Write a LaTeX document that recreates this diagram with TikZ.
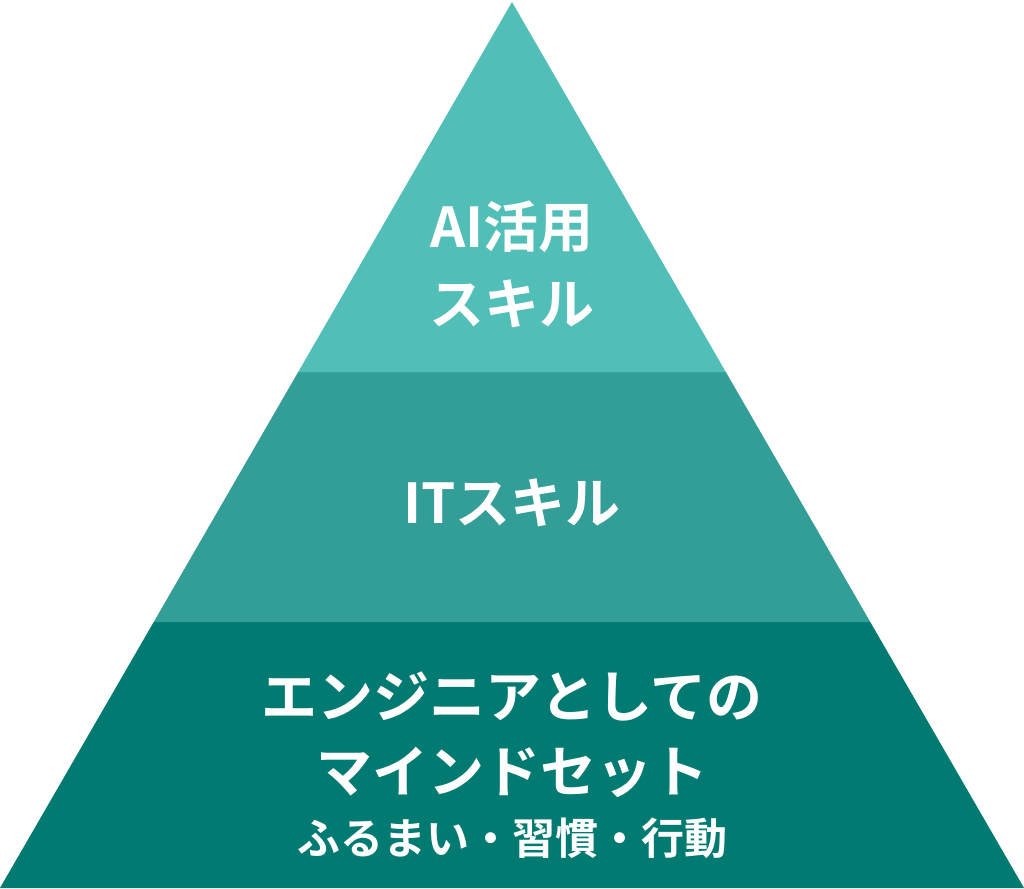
\documentclass[tikz,border=0pt]{standalone}
\usepackage{fontspec}
\setmainfont{Noto Sans CJK JP}[BoldFont={* Bold}]
\definecolor{topc}{HTML}{52BEB8}
\definecolor{midc}{HTML}{339E97}
\definecolor{botc}{HTML}{017A72}
\begin{document}
\begin{tikzpicture}[x=1pt,y=-1pt,
  lbl/.style={text=white,font=\fontsize{55}{74}\selectfont\bfseries,align=center,inner sep=0pt},
  lblb/.style={text=white,font=\fontsize{56}{74}\selectfont\bfseries,align=center,inner sep=0pt},
  lbls/.style={text=white,font=\fontsize{43}{50}\selectfont\bfseries,inner sep=0pt}]
\useasboundingbox (0,0) rectangle (1024,888);
\coordinate (apex) at (512,2);
\coordinate (l2) at (298.19,372);
\coordinate (r2) at (725.81,372);
\coordinate (l1) at (153.73,622);
\coordinate (r1) at (870.27,622);
\coordinate (bl) at (0,888);
\coordinate (br) at (1024,888);
% bands
\fill[botc] (bl) -- (br) -- (r1) -- (l1) -- cycle;
\fill[midc] (l1) -- (r1) -- (r2) -- (l2) -- cycle;
\fill[topc] (l2) -- (r2) -- (apex) -- cycle;
\node[lbl] (t1) at (512,227) {AI活用};
\node[lbl] (t2) at (512,304) {スキル};
\node[lbl] (m1) at (512,503) {ITスキル};
\node[lblb] (b1) at (512,696) {エンジニアとしての};
\node[lblb] (b2) at (512,772) {マインドセット};
\node[lbls] (b3) at (512,838) {ふるまい・習慣・行動};
\end{tikzpicture}
\end{document}
